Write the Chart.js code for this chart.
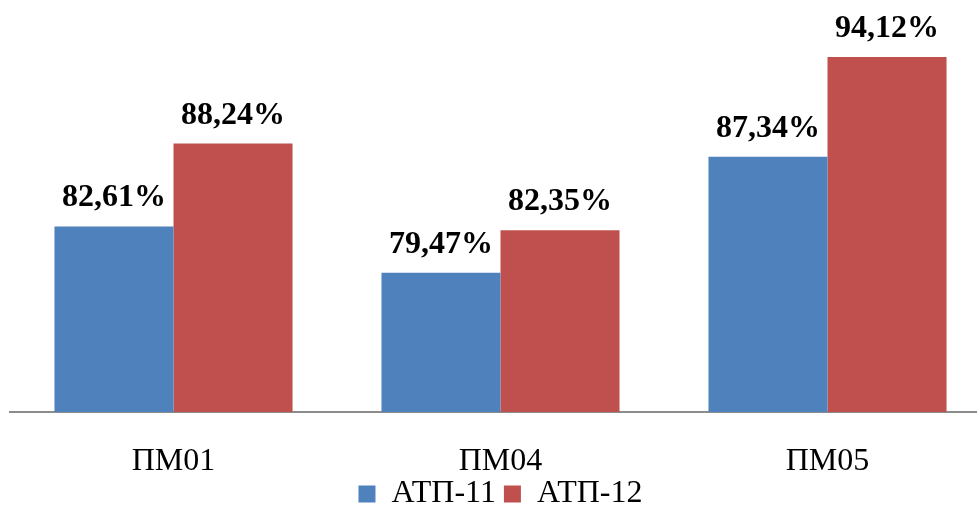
<!DOCTYPE html>
<html>
<head>
<meta charset="utf-8">
<script src="https://cdn.jsdelivr.net/npm/chart.js@4"></script>
<style>
  html, body { margin: 0; padding: 0; background: #fff; overflow: hidden; }
  #wrap { width: 1000px; height: 506px; }
</style>
</head>
<body>
<div id="wrap"><canvas id="chart"></canvas></div>
<script>
const categories = ['ПМ01', 'ПМ04', 'ПМ05'];
const seriesNames = ['АТП-11', 'АТП-12'];
const atp11 = [82.61, 79.47, 87.34];
const atp12 = [88.24, 82.35, 94.12];

const serif = '"Liberation Serif", "Times New Roman", serif';

// value labels above each bar
const barLabels = {
  id: 'barLabels',
  afterDatasetsDraw(chart) {
    const ctx = chart.ctx;
    ctx.save();
    ctx.font = 'bold 32px ' + serif;
    ctx.fillStyle = '#000';
    ctx.textAlign = 'center';
    ctx.textBaseline = 'alphabetic';
    chart.data.datasets.forEach((ds, i) => {
      chart.getDatasetMeta(i).data.forEach((bar, j) => {
        const txt = ds.data[j].toFixed(2).replace('.', ',') + '%';
        ctx.fillText(txt, bar.x, bar.y - 20);
      });
    });
    ctx.restore();
  }
};

const ctx = document.getElementById('chart').getContext('2d');
const chart = new Chart(ctx, {
  type: 'bar',
  data: {
    labels: categories,
    datasets: [{
      label: seriesNames[0],
      data: atp11,
      backgroundColor: '#4F81BD',
      borderWidth: 0
    }, {
      label: seriesNames[1],
      data: atp12,
      backgroundColor: '#C0504D',
      borderWidth: 0
    }]
  },
  options: {
    responsive: true,
    maintainAspectRatio: false,
    animation: false,
    layout: { padding: { left: 10, right: 9, top: 0, bottom: -14 } },
    datasets: {
      bar: { categoryPercentage: 0.728, barPercentage: 1.0 }
    },
    scales: {
      x: {
        grid: { display: false },
        border: { display: true, color: '#8c8c8c', width: 2 },
        ticks: {
          color: '#000',
          padding: 26,
          font: { family: serif, size: 32, lineHeight: 1.0 }
        },
        afterFit(scale) { scale.height -= 26; }
      },
      y: {
        display: false,
        min: 70,
        max: 98
      }
    },
    plugins: {
      tooltip: { enabled: false },
      legend: {
        position: 'bottom',
        labels: {
          color: '#000',
          boxWidth: 17,
          boxHeight: 17,
          padding: 0,
          font: { family: serif, size: 32, lineHeight: 1.0 },
          generateLabels(chart) {
            return chart.data.datasets.map((ds, i) => ({
              text: i === 0 ? ds.label + ' ' : ds.label,
              fillStyle: ds.backgroundColor,
              strokeStyle: ds.backgroundColor,
              lineWidth: 0,
              datasetIndex: i
            }));
          }
        }
      }
    }
  },
  plugins: [barLabels]
});
</script>
</body>
</html>
